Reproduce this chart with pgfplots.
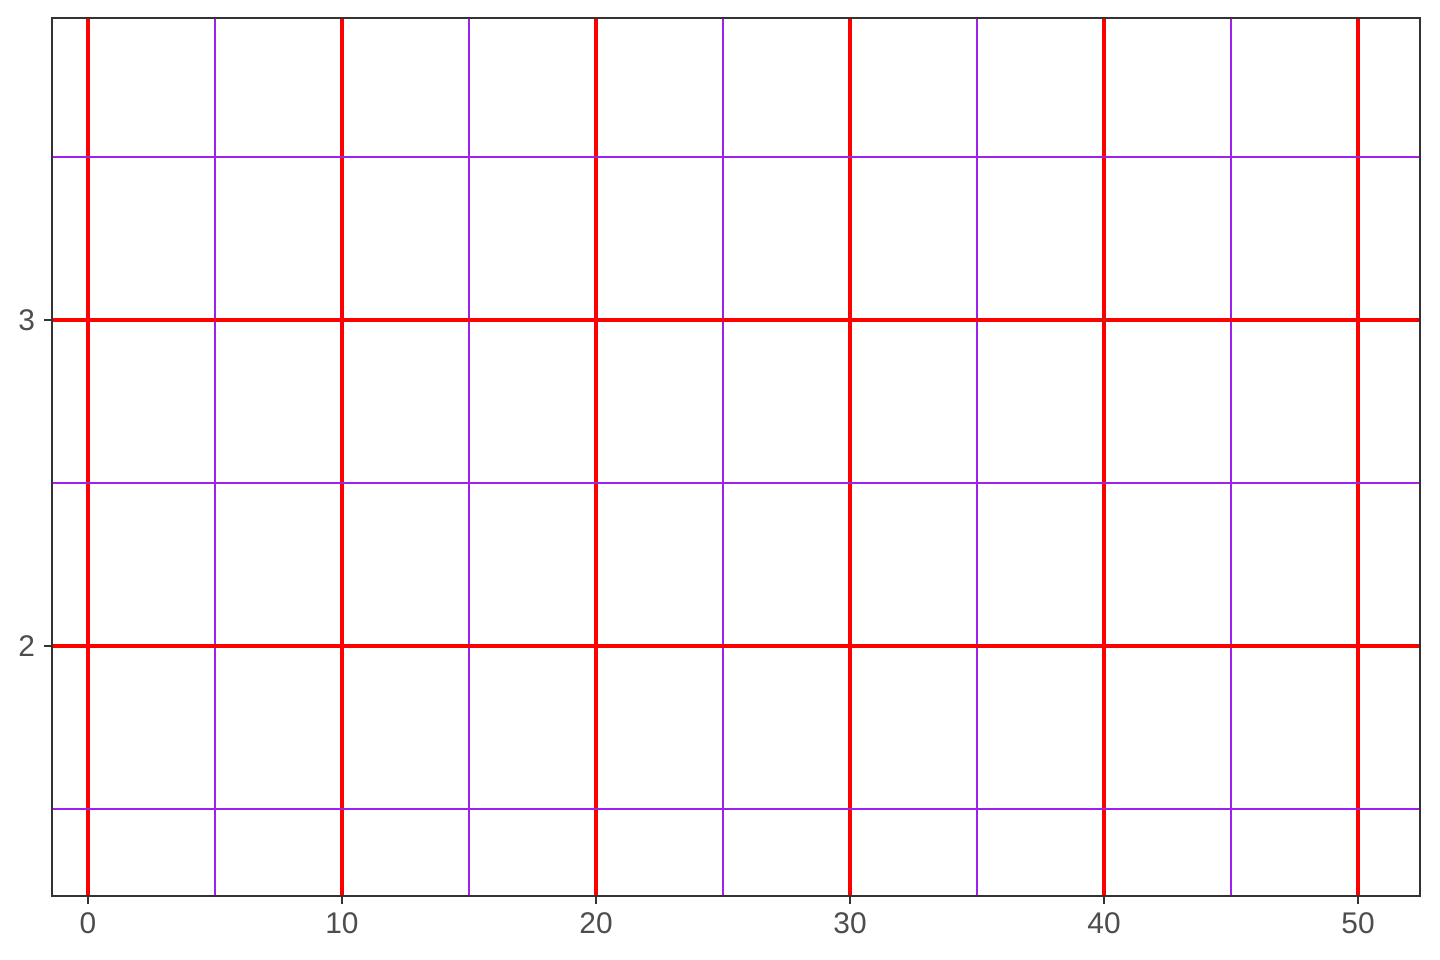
\documentclass[border=0pt]{standalone}
\usepackage{pgfplots}
\pgfplotsset{compat=1.18}
\usepackage{fontspec}
\setmainfont{Liberation Sans}
\definecolor{gridred}{RGB}{255,0,0}
\definecolor{gridpurple}{RGB}{160,32,240}
\definecolor{frame}{RGB}{51,51,51}
\definecolor{ticklab}{RGB}{77,77,77}
\begin{document}
\begin{tikzpicture}
\begin{axis}[
  scale only axis,
  width=684bp, height=439bp,
  xmin=-1.417, xmax=52.44,
  ymin=1.233, ymax=3.926,
  xtick={0,10,20,30,40,50},
  ytick={2,3},
  minor xtick={5,15,25,35,45},
  minor ytick={1.5,2.5,3.5},
  grid=both,
  major grid style={gridred, line width=1.6bp},
  minor grid style={gridpurple, line width=0.75bp},
  axis line style={frame, line width=0.6bp},
  tick align=outside,
  tick pos=left,
  major tick length=4bp,
  minor tick length=0pt,
  tick style={frame, line width=1.1bp},
  every tick label/.append style={font=\fontsize{15}{18}\selectfont, text=ticklab},
  /pgf/number format/assume math mode=true,
  xticklabel style={yshift=-1bp},
  yticklabel style={xshift=-1bp},
]
\addplot[draw=none, forget plot] coordinates {(0,2) (50,3)};
\end{axis}
\useasboundingbox (current axis.south west) ++(-26bp,-32bp) rectangle ([xshift=10bp,yshift=9bp]current axis.north east);
\end{tikzpicture}
\end{document}
